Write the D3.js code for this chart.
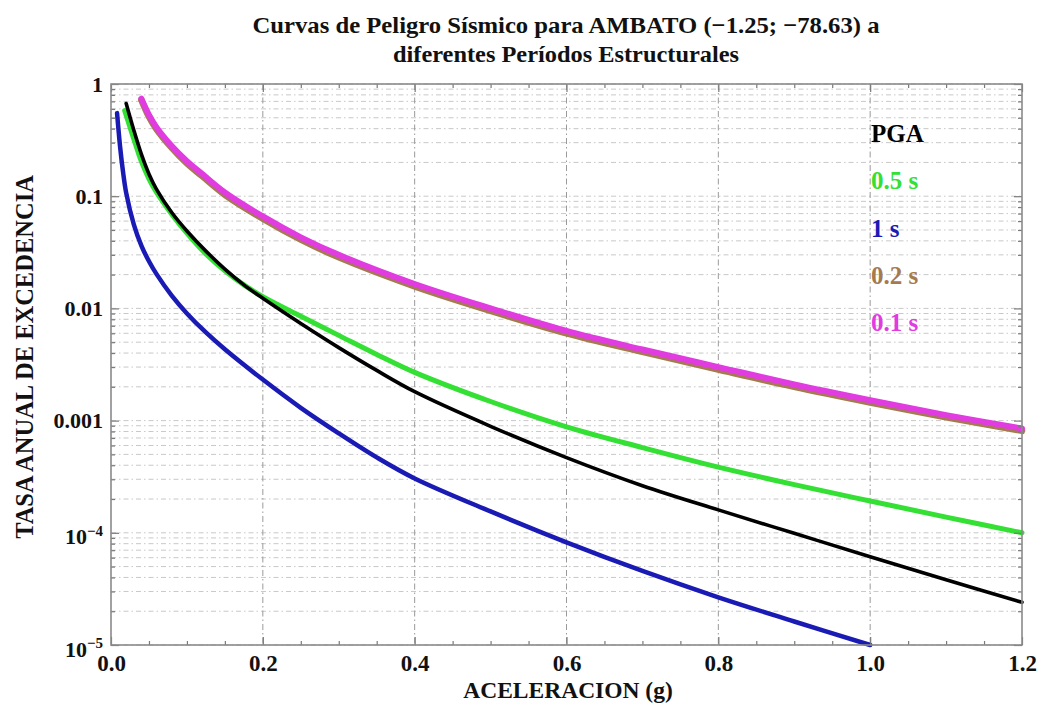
<!DOCTYPE html>
<html>
<head>
<meta charset="utf-8">
<script src="https://cdn.jsdelivr.net/npm/d3@7"></script>
<style>
  html, body { margin: 0; padding: 0; background: #fff; }
  svg { display: block; }
  text { font-family: "Liberation Serif", "Times New Roman", serif; font-weight: bold; }
</style>
</head>
<body>
<svg id="chart" width="1042" height="711"></svg>
<script>
// ---------------- data ----------------
const titleLines = ["Curvas de Peligro Sísmico para AMBATO (\u22121.25; \u221278.63) a", "diferentes Períodos Estructurales"];
const xLabel = "ACELERACION (g)";
const yLabel = "TASA ANUAL DE EXCEDENCIA";

const xTicks = [0.0, 0.2, 0.4, 0.6, 0.8, 1.0, 1.2];
const xTickLabels = ["0.0", "0.2", "0.4", "0.6", "0.8", "1.0", "1.2"];
const yTicks = [1, 0.1, 0.01, 0.001, 1e-4, 1e-5];
const yTickLabels = [["1", ""], ["0.1", ""], ["0.01", ""], ["0.001", ""], ["10", "\u22124"], ["10", "\u22125"]];

const seriesNames = ["PGA", "0.5 s", "1 s", "0.2 s", "0.1 s"];

const pgaX = [0.02,0.03,0.04,0.05,0.06,0.08,0.1,0.125,0.15,0.175,0.2,0.25,0.3,0.35,0.4,0.5,0.6,0.7,0.8,0.9,1.0,1.1,1.2];
const pgaY = [0.67,0.389,0.237,0.158,0.115,0.0716,0.049,0.0324,0.0224,0.0162,0.0123,0.00733,0.00447,0.0028,0.00181,0.00089,0.000468,0.000263,0.00016,0.0000989,0.0000612,0.0000382,0.000024];

const t05X = [0.018,0.03,0.04,0.05,0.06,0.08,0.1,0.125,0.15,0.175,0.2,0.25,0.3,0.35,0.4,0.5,0.6,0.7,0.8,0.9,1.0,1.1,1.2];
const t05Y = [0.58,0.324,0.204,0.143,0.108,0.0692,0.0468,0.0305,0.0216,0.0162,0.0127,0.0085,0.00575,0.00389,0.00269,0.00148,0.00088,0.000575,0.000385,0.000269,0.000192,0.000138,0.0001];

const t1X = [0.008,0.012,0.016,0.02,0.03,0.04,0.05,0.06,0.08,0.1,0.125,0.15,0.2,0.25,0.3,0.35,0.4,0.5,0.6,0.7,0.8,0.9,1.0];
const t1Y = [0.55,0.275,0.162,0.107,0.0562,0.0363,0.0263,0.0202,0.0130,0.00902,0.0061,0.00432,0.00232,0.0013,0.00077,0.00047,0.000305,0.000155,0.0000822,0.0000457,0.0000266,0.0000162,0.00001];

const t02X = [0.04,0.05,0.06,0.08,0.1,0.12,0.15,0.2,0.25,0.3,0.4,0.5,0.6,0.7,0.8,0.9,1.0,1.1,1.2];
const t02Y = [0.72,0.51,0.395,0.27,0.196,0.151,0.103,0.063,0.041,0.0285,0.0157,0.0095,0.006,0.0041,0.00285,0.002,0.00145,0.00107,0.00081];

const t01X = [0.04,0.05,0.06,0.08,0.1,0.12,0.15,0.2,0.25,0.3,0.4,0.5,0.6,0.7,0.8,0.9,1.0,1.1,1.2];
const t01Y = [0.74,0.53,0.41,0.28,0.205,0.158,0.108,0.066,0.043,0.030,0.0165,0.0100,0.0063,0.0043,0.0030,0.0021,0.00152,0.00112,0.00085];

// ---------------- layout ----------------
const svg = d3.select("#chart");
const L = 111, R = 1022, T = 84, B = 645;
const x = d3.scaleLinear().domain([0, 1.2]).range([L, R]);
const y = d3.scaleLog().domain([1e-5, 1]).range([B, T]);

const colors = {"PGA": "#000000", "0.5 s": "#33e033", "1 s": "#1a1ab4", "0.2 s": "#a57a4e", "0.1 s": "#e03ce0"};

// minor log values
const yMinor = [];
for (let e = -5; e < 0; e++) for (let m = 2; m <= 9; m++) yMinor.push(m * Math.pow(10, e));
const xMinor = d3.range(0, 1.2001, 0.05).map(v => +v.toFixed(2));

// ---------------- grid ----------------
const grid = svg.append("g");
grid.selectAll("line.h").data(yMinor.concat(yTicks)).join("line")
  .attr("x1", L).attr("x2", R)
  .attr("y1", d => y(d)).attr("y2", d => y(d))
  .attr("stroke", "#c8c8c8").attr("stroke-width", 1)
  .attr("stroke-dasharray", "5,3,1.5,3");
grid.selectAll("line.v").data(xTicks.slice(1, -1)).join("line")
  .attr("x1", d => x(d)).attr("x2", d => x(d))
  .attr("y1", T).attr("y2", B)
  .attr("stroke", "#9a9a9a").attr("stroke-width", 1)
  .attr("stroke-dasharray", "6,3,1.5,3");

// ---------------- curves ----------------
const line = d3.line().x(d => x(d[0])).y(d => y(d[1])).curve(d3.curveCatmullRom.alpha(0.5));
const zip = (a, b) => a.map((v, i) => [v, b[i]]);
const curves = [
  {name: "1 s", data: zip(t1X, t1Y), w: 4.5},
  {name: "0.5 s", data: zip(t05X, t05Y), w: 5},
  {name: "PGA", data: zip(pgaX, pgaY), w: 3.6},
  {name: "0.2 s", data: zip(t02X, t02Y), w: 6.5},
  {name: "0.1 s", data: zip(t01X, t01Y), w: 6}
];
const cg = svg.append("g");
cg.selectAll("path").data(curves).join("path")
  .attr("d", d => line(d.data))
  .attr("fill", "none")
  .attr("stroke", d => colors[d.name])
  .attr("stroke-width", d => d.w)
  .attr("stroke-linejoin", "round")
  .attr("stroke-linecap", "round");

// ---------------- frame & axes ----------------
const axColor = "#7a7a7a";
function styleAxis(g) {
  g.select(".domain").remove();
  g.selectAll(".tick line").attr("stroke", axColor).attr("stroke-width", 1.2);
}
const xMinorOnly = xMinor.filter(v => !xTicks.includes(v));
// bottom major with labels
const xAxisB = svg.append("g").attr("transform", `translate(0,${B})`)
  .call(d3.axisBottom(x).tickValues(xTicks).tickSize(-8).tickPadding(10)
        .tickFormat((d, i) => xTickLabels[i]));
styleAxis(xAxisB);
xAxisB.selectAll("text").attr("font-size", 23).attr("fill", "#111")
  .attr("font-family", "Liberation Serif, serif").attr("font-weight", "bold");
// bottom minor
styleAxis(svg.append("g").attr("transform", `translate(0,${B})`)
  .call(d3.axisBottom(x).tickValues(xMinorOnly).tickSize(-4).tickFormat("")));
// top ticks
styleAxis(svg.append("g").attr("transform", `translate(0,${T})`)
  .call(d3.axisTop(x).tickValues(xTicks).tickSize(-8).tickFormat("")));
styleAxis(svg.append("g").attr("transform", `translate(0,${T})`)
  .call(d3.axisTop(x).tickValues(xMinorOnly).tickSize(-4).tickFormat("")));

// left major
const yAxisL = svg.append("g").attr("transform", `translate(${L},0)`)
  .call(d3.axisLeft(y).tickValues(yTicks).tickSize(-8).tickPadding(8).tickFormat(""));
styleAxis(yAxisL);
yAxisL.selectAll(".tick text").each(function(d, i) {
  const t = d3.select(this).attr("font-size", 22).attr("fill", "#111")
    .attr("font-family", "Liberation Serif, serif").attr("font-weight", "bold");
  const lab = yTickLabels[i];
  t.text(null);
  t.append("tspan").text(lab[0]);
  if (lab[1]) {
    t.append("tspan").attr("font-size", 15).attr("dy", "-0.55em").text(lab[1]);
    t.attr("dy", "0.5em");
  }
});
styleAxis(svg.append("g").attr("transform", `translate(${L},0)`)
  .call(d3.axisLeft(y).tickValues(yMinor).tickSize(-4).tickFormat("")));
// right ticks
styleAxis(svg.append("g").attr("transform", `translate(${R},0)`)
  .call(d3.axisRight(y).tickValues(yTicks).tickSize(-8).tickFormat("")));
styleAxis(svg.append("g").attr("transform", `translate(${R},0)`)
  .call(d3.axisRight(y).tickValues(yMinor).tickSize(-4).tickFormat("")));

// frame
svg.append("rect").attr("x", L).attr("y", T).attr("width", R - L).attr("height", B - T)
  .attr("fill", "none").attr("stroke", "#8a8a8a").attr("stroke-width", 1.6);

// ---------------- titles ----------------
const titleW = [627, 346];
svg.selectAll("text.title").data(titleLines).join("text")
  .attr("class", "title")
  .attr("x", 566).attr("y", (d, i) => 33 + i * 29)
  .attr("text-anchor", "middle").attr("font-size", 24).attr("fill", "#111")
  .attr("textLength", (d, i) => titleW[i]).attr("lengthAdjust", "spacingAndGlyphs")
  .text(d => d);

svg.append("text").attr("x", 568).attr("y", 698).attr("text-anchor", "middle")
  .attr("font-size", 23.5).attr("fill", "#111").text(xLabel);

svg.append("text").attr("transform", "translate(33,357) rotate(-90)").attr("text-anchor", "middle")
  .attr("font-size", 24.5).attr("fill", "#111").text(yLabel);

// ---------------- legend ----------------
svg.selectAll("text.leg").data(seriesNames).join("text")
  .attr("class", "leg")
  .attr("x", 871).attr("y", (d, i) => 142 + i * 47.3)
  .attr("font-size", 25).attr("fill", d => colors[d])
  .text(d => d);
</script>
</body>
</html>
